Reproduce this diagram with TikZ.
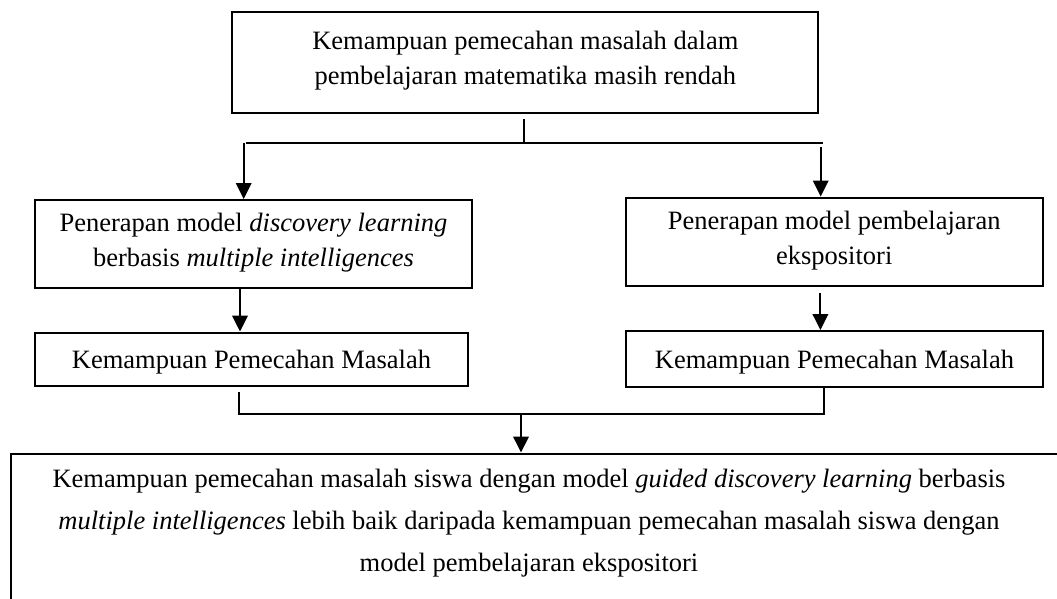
\documentclass[tikz,border=0pt]{standalone}
\usepackage{fontspec}
\setmainfont{Liberation Serif}
\usetikzlibrary{arrows.meta}
\newcommand{\tegak}{\rule[-0.24\baselineskip]{0pt}{\baselineskip}}

\begin{document}
\begin{tikzpicture}[x=1pt, y=-1pt, line width=2pt,
        kotak/.style={rectangle, draw, inner sep=0pt, align=center,
            font=\fontsize{26.5}{35}\selectfont,
            execute at begin node=\tegak, execute at end node=\tegak},
        teks/.style={inner sep=0pt, align=center,
            font=\fontsize{26.5}{42}\selectfont,
            execute at begin node=\tegak, execute at end node=\tegak},
        panah/.style={-{Triangle[length=16pt, width=15.5pt]}}
    ]
        \useasboundingbox (0,0) rectangle (1057,599);

        % Masalah
        \node[kotak, minimum width=586pt, minimum height=101pt] (masalah) at (525.3,62.4)
            {Kemampuan pemecahan masalah dalam\\pembelajaran matematika masih rendah};

        % Perlakuan
        \node[kotak, minimum width=437.6pt, minimum height=88pt] (discovery) at (253.5,244)
            {Penerapan model \textit{discovery learning}\\berbasis \textit{multiple intelligences}};
        \node[kotak, minimum width=417pt, minimum height=88.5pt] (ekspositori) at (834.2,241.8)
            {Penerapan model pembelajaran\\ekspositori};

        % Hasil
        \node[kotak, minimum width=433.5pt, minimum height=53.5pt] (hasilA) at (251.5,359.3)
            {Kemampuan Pemecahan Masalah};
        \node[kotak, minimum width=417.6pt, minimum height=55.7pt] (hasilB) at (834.5,358.9)
            {Kemampuan Pemecahan Masalah};

        % Hipotesis
        \node[draw, minimum width=1070pt, minimum height=170pt, anchor=north west] (hipotesis) at (10,452.5) {};
        \node[teks] (kesimpulan) at (529,525)
            {Kemampuan pemecahan masalah siswa dengan model \textit{guided discovery learning} berbasis\\
             \textit{multiple intelligences} lebih baik daripada kemampuan pemecahan masalah siswa dengan\\
             model pembelajaran ekspositori};

        % Cabang atas
        \coordinate (cabang) at (523.5,142.7);
        \coordinate (cabangkiri) at (245.7,142.7);
        \coordinate (cabangkanan) at (822.7,142.7);
        \coordinate (turunkiri) at (243.7,142.7);
        \coordinate (turunkanan) at (820.7,147.3);
        \draw ([yshift=-5pt]masalah.south -| cabang) -- (cabang);
        \draw (cabangkiri) -- (cabangkanan);
        \draw[panah] (turunkiri) -- (turunkiri |- discovery.north);
        \draw[panah] (turunkanan) -- (turunkanan |- ekspositori.north);

        % Panah ke hasil
        \coordinate (tengahkiri) at (240,0);
        \coordinate (tengahkanan) at (820.4,0);
        \draw[panah] (discovery.south -| tengahkiri) -- (hasilA.north -| tengahkiri);
        \draw[panah] ([yshift=-6pt]ekspositori.south -| tengahkanan) -- (hasilB.north -| tengahkanan);

        % Gabungan bawah
        \coordinate (gabung) at (521,414.3);
        \coordinate (gabungkiri) at (239.4,414.3);
        \coordinate (gabungkanan) at (824,414.3);
        \draw ([yshift=-5pt]hasilA.south -| gabungkiri) -- (gabungkiri) -- (gabungkanan)
            -- (hasilB.south -| gabungkanan);
        \draw[panah] (gabung) -- (gabung |- hipotesis.north);
    \end{tikzpicture}
\end{document}
